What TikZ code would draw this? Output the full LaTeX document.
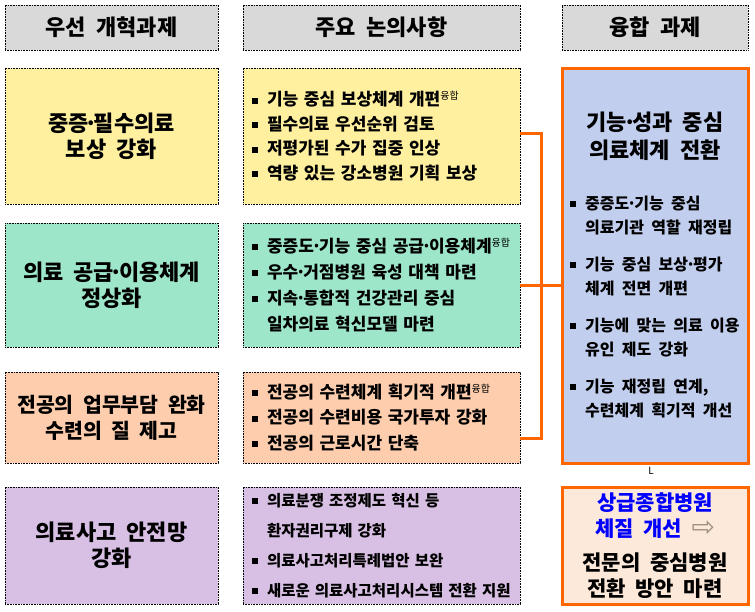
\documentclass[tikz,border=0pt]{standalone}
\usepackage{fontspec}
\setmainfont{Noto Sans CJK KR}[BoldFont={Noto Sans CJK KR Black}, WordSpace=2]
\newfontfamily\symfont{DejaVu Sans}
\definecolor{hdrgray}{HTML}{D9D9D9}
\definecolor{cyel}{HTML}{FFF0A0}
\definecolor{cgrn}{HTML}{9EE6C9}
\definecolor{cpch}{HTML}{FDCDAE}
\definecolor{cprp}{HTML}{D8BFE4}
\definecolor{cblu}{HTML}{C2CEEE}
\definecolor{corg}{HTML}{FF6600}
\definecolor{cbot}{HTML}{FDE9DA}
\definecolor{cblue}{HTML}{0000FF}
\definecolor{carr}{HTML}{A09080}
\newcommand\bul{\makebox[15pt][l]{\rule[2pt]{6pt}{6pt}}}
\newcommand\cont{\hspace*{15pt}}
\newcommand\md{\makebox[5pt][c]{·}}
\newcommand\yh{\raisebox{6pt}{\mdseries\fontsize{10}{10}\selectfont 융합}}
\tikzset{
  dotbox/.style={draw=black, line width=0.8pt, dash pattern=on 0.8pt off 0.8pt, inner sep=0pt, outer sep=0pt},
  hdr/.style={dotbox, fill=hdrgray, minimum height=45pt, font=\bfseries\fontsize{22}{26}\selectfont},
  lbox/.style={dotbox, minimum width=213pt, align=center, font=\bfseries\fontsize{22}{26}\selectfont},
  mbox/.style={dotbox, minimum width=277pt, text width=259pt, align=left, inner xsep=9pt, font=\bfseries\fontsize{17}{24.5}\selectfont},
  obox/.style={draw=corg, line width=3pt, inner sep=0pt, outer sep=0pt, minimum width=186pt},
  obr/.style={draw=corg, line width=3pt},
}
\begin{document}
\begin{tikzpicture}[x=1pt,y=-1pt]
\useasboundingbox (0,0) rectangle (755,611);
% headers
\node[hdr, minimum width=213pt] (h1) at (111.5,27.5) {우선 개혁과제};
\node[hdr, minimum width=277pt] (h2) at (381.5,27.5) {주요 논의사항};
\node[hdr, minimum width=186pt] (h3) at (655,27.5) {융합 과제};
% left column
\node[lbox, fill=cyel, minimum height=136pt] (l1) at (111.5,136) {중증\md 필수의료\\보상 강화};
\node[lbox, fill=cgrn, minimum height=124pt] (l2) at (111.5,285) {의료 공급\md 이용체계\\정상화};
\node[lbox, fill=cpch, minimum height=91pt, font=\bfseries\fontsize{20.5}{26}\selectfont] (l3) at (111.5,417.5) {전공의 업무부담 완화\\수련의 질 제고};
\node[lbox, fill=cprp, minimum height=117pt] (l4) at (111.5,545.5) {의료사고 안전망\\강화};
% middle column
\node[mbox, fill=cyel, minimum height=136pt] (m1) at (381.5,136) {\bul 기능 중심 보상체계 개편\yh\\\bul 필수의료 우선순위 검토\\\bul 저평가된 수가 집중 인상\\\bul 역량 있는 강소병원 기획 보상};
\node[mbox, fill=cgrn, minimum height=124pt, font=\bfseries\fontsize{17}{26}\selectfont] (m2) at (381.5,285) {\bul 중증도\md 기능 중심 공급\md 이용체계\yh\\\bul 우수\md 거점병원 육성 대책 마련\\\bul 지속\md 통합적 건강관리 중심\\\cont 일차의료 혁신모델 마련};
\node[mbox, fill=cpch, minimum height=91pt, font=\bfseries\fontsize{17}{25.5}\selectfont] (m3) at (381.5,417.5) {\bul 전공의 수련체계 획기적 개편\yh\\\bul 전공의 수련비용 국가투자 강화\\\bul 전공의 근로시간 단축};
\node[mbox, fill=cprp, minimum height=117pt, font=\bfseries\fontsize{15.5}{30}\selectfont] (m4) at (381.5,545.5) {\bul 의료분쟁 조정제도 혁신 등\\\cont 환자권리구제 강화\\\bul 의료사고처리특례법안 보완\\\bul 새로운 의료사고처리시스템 전환 지원};
% right column
\node[obox, fill=cblu, minimum height=395pt] (r1) at (655,265.5) {};
\node[align=center, font=\bfseries\fontsize{22}{28}\selectfont, inner sep=0pt] (r1t) at (655,136) {기능\md 성과 중심\\의료체계 전환};
\node[align=left, anchor=west, inner sep=0pt, font=\bfseries\fontsize{16}{24.5}\selectfont] (r1b) at (570,307) {\bul 중증도\md 기능 중심\\\cont 의료기관 역할 재정립\\[12pt]\bul 기능 중심 보상\md 평가\\\cont 체계 전면 개편\\[12pt]\bul 기능에 맞는 의료 이용\\\cont 유인 제도 강화\\[12pt]\bul 기능 재정립 연계,\\\cont 수련체계 획기적 개선};
\node[font=\fontsize{10}{10}\selectfont, inner sep=0pt] (lmark) at (651,471) {L};
\node[obox, fill=cbot, minimum height=117pt, align=center, font=\bfseries\fontsize{21}{26}\selectfont] (r2) at (655,545.5) {\textcolor{cblue}{상급종합병원}\\\textcolor{cblue}{체질 개선} \smash{\symfont\mdseries\fontsize{28}{28}\selectfont\textcolor{carr}{⇨}}\\[8pt]전문의 중심병원\\전환 방안 마련};
% bracket
\coordinate (brx) at (541,0);
\coordinate (b1) at ([yshift=3pt]m1.east);
\coordinate (b3) at ([yshift=-20.5pt]m3.east);
\draw[obr] (b1) -| (brx |- b3) -- (b3);
\draw[obr] (m2.east) -- (r1.west |- m2.east);
\end{tikzpicture}
\end{document}
